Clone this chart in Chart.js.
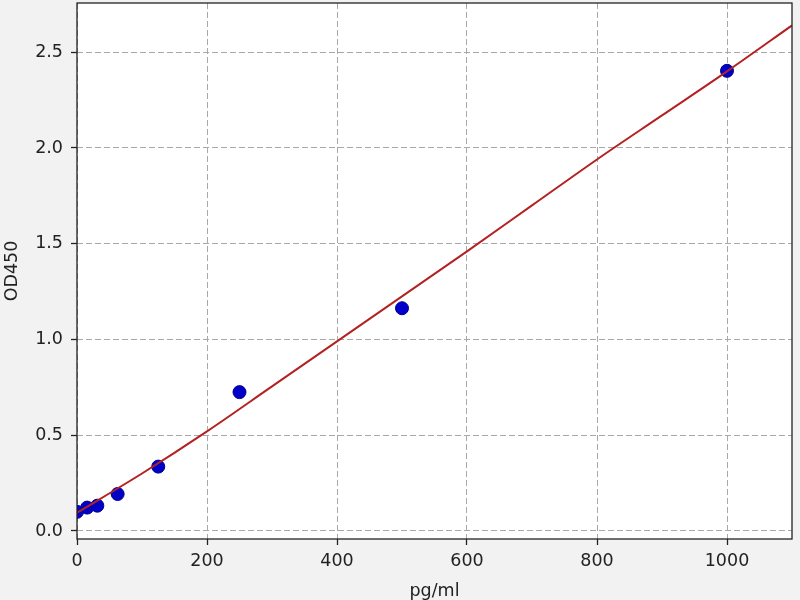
<!DOCTYPE html>
<html>
<head>
<meta charset="utf-8">
<script src="https://cdn.jsdelivr.net/npm/chart.js@4/dist/chart.umd.min.js"></script>
<style>
html,body{margin:0;padding:0;background:#f2f2f2;}
canvas{display:block;}
</style>
</head>
<body>
<canvas id="c" width="800" height="600"></canvas>
<script>
// Measured standards
const concentrations = [0, 15.6, 31.25, 62.5, 125, 250, 500, 1000];
const odValues = [0.100, 0.122, 0.132, 0.193, 0.336, 0.725, 1.163, 2.403];
// Fitted curve
const fitX = [0, 100, 200, 300, 400, 500, 600, 700, 800, 900, 1000, 1100];
const fitY = [0.095, 0.30, 0.52, 0.755, 0.99, 1.225, 1.46, 1.70, 1.94, 2.17, 2.40, 2.64];
// Tick labels
const xTicks = [0, 200, 400, 600, 800, 1000];
const yTicks = [0.0, 0.5, 1.0, 1.5, 2.0, 2.5];
const xTitle = 'pg/ml';
const yTitle = 'OD450';

const FONT = 'DejaVu Sans';

const framePlugin = {
  id: 'frame',
  beforeDraw(chart) {
    const {ctx, chartArea: a, width, height} = chart;
    ctx.save();
    ctx.fillStyle = '#f2f2f2';
    ctx.fillRect(0, 0, width, height);
    ctx.fillStyle = '#ffffff';
    ctx.fillRect(a.left, a.top, a.right - a.left, a.bottom - a.top);
    ctx.restore();
  },
  afterDatasetsDraw(chart) {
    const {ctx, chartArea: a} = chart;
    ctx.save();
    ctx.strokeStyle = '#222222';
    ctx.lineWidth = 1.3;
    ctx.strokeRect(a.left, a.top, a.right - a.left, a.bottom - a.top);
    ctx.restore();
  }
};

const gridOpts = {
  color: '#a8a8a8',
  lineWidth: 1,
  drawTicks: true,
  tickLength: 6,
  tickColor: '#222222',
  tickBorderDash: [],
  tickWidth: 1.3
};

new Chart(document.getElementById('c'), {
  type: 'scatter',
  data: {
    datasets: [
      {
        type: 'line',
        data: fitX.map((x, i) => ({x: x, y: fitY[i]})),
        borderColor: '#b22222',
        borderWidth: 2,
        pointRadius: 0,
        fill: false,
        cubicInterpolationMode: 'monotone',
        order: 1
      },
      {
        data: concentrations.map((x, i) => ({x: x, y: odValues[i]})),
        backgroundColor: '#0000c8',
        borderColor: '#000090',
        borderWidth: 1,
        pointRadius: 6.5,
        order: 2
      }
    ]
  },
  options: {
    responsive: false,
    devicePixelRatio: 1,
    animation: false,
    layout: {autoPadding: false, padding: {top: 3, right: 8, left: 0, bottom: 0}},
    plugins: {legend: {display: false}, tooltip: {enabled: false}},
    scales: {
      x: {
        type: 'linear',
        min: 0,
        max: 1100,
        afterBuildTicks: s => { s.ticks = xTicks.map(v => ({value: v})); },
        afterFit: s => { s.height = 61; s.paddingLeft = 0; s.paddingRight = 0; },
        border: {display: false, dash: [6, 3]},
        grid: gridOpts,
        ticks: {
          color: '#222222',
          font: {family: FONT, size: 17.5},
          padding: 6,
          maxRotation: 0,
          callback: v => String(v)
        },
        title: {
          display: true,
          text: xTitle,
          color: '#222222',
          font: {family: FONT, size: 17.5},
          padding: {top: 0, bottom: -2}
        }
      },
      y: {
        type: 'linear',
        min: -0.042,
        max: 2.757,
        afterBuildTicks: s => { s.ticks = yTicks.map(v => ({value: v})); },
        afterFit: s => { s.width = 77; s.paddingTop = 0; s.paddingBottom = 0; },
        border: {display: false, dash: [6, 3]},
        grid: gridOpts,
        ticks: {
          color: '#222222',
          font: {family: FONT, size: 17.5},
          padding: 8,
          callback: v => Number(v).toFixed(1)
        },
        title: {
          display: true,
          text: yTitle,
          color: '#222222',
          font: {family: FONT, size: 17.5},
          padding: {top: 2, bottom: 0}
        }
      }
    }
  },
  plugins: [framePlugin]
});
</script>
</body>
</html>
